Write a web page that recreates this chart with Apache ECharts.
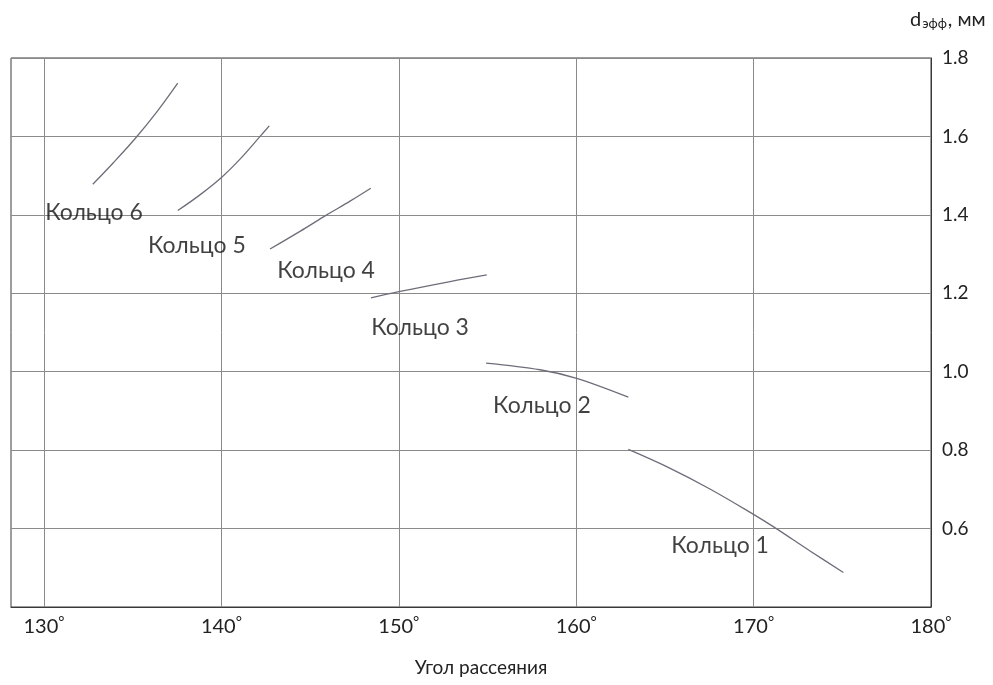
<!DOCTYPE html>
<html><head><meta charset="utf-8">
<script src="https://cdn.jsdelivr.net/npm/echarts@6/dist/echarts.min.js"></script>
<style>html,body{margin:0;padding:0;background:#fff}#c{width:993px;height:685px}</style>
</head><body><div id="c"></div>
<script>
// Tick labels
const xTicks = [130, 140, 150, 160, 170, 180];
const yTicks = [0.6, 0.8, 1.0, 1.2, 1.4, 1.6, 1.8];

// Curves: scattering angle (deg) vs effective diameter (mm)
const ring1Angle = [162.94, 165.10, 167.54, 170.04, 171.11, 173.18, 175.06];
const ring1D     = [0.802, 0.758, 0.701, 0.635, 0.605, 0.543, 0.488];
const ring2Angle = [154.92, 157.96, 160.03, 162.94];
const ring2D     = [1.022, 1.005, 0.983, 0.935];
const ring3Angle = [148.43, 150.00, 152.89, 154.96];
const ring3D     = [1.188, 1.204, 1.230, 1.247];
const ring4Angle = [142.74, 144.43, 145.94, 147.25, 148.42];
const ring4D     = [1.313, 1.358, 1.400, 1.435, 1.468];
const ring5Angle = [137.54, 138.79, 140.02, 141.05, 142.18, 142.70];
const ring5D     = [1.411, 1.451, 1.496, 1.542, 1.600, 1.627];
const ring6Angle = [132.75, 133.91, 135.13, 136.35, 137.54];
const ring6D     = [1.478, 1.533, 1.594, 1.662, 1.736];

// Annotation labels
const labelNames  = ['Кольцо 1', 'Кольцо 2', 'Кольцо 3', 'Кольцо 4', 'Кольцо 5', 'Кольцо 6'];
const labelAngles = [168.11, 158.07, 151.20, 145.90, 138.62, 132.82];
const labelDs     = [0.556, 0.913, 1.112, 1.257, 1.321, 1.405];

const FONT = 'Lato';
const rings = [[ring1Angle, ring1D], [ring2Angle, ring2D], [ring3Angle, ring3D],
               [ring4Angle, ring4D], [ring5Angle, ring5D], [ring6Angle, ring6D]];

const lineSeries = rings.map(function (r, i) {
  return {
    type: 'line', name: labelNames[i], smooth: 0.35, symbol: 'none',
    data: r[0].map(function (a, k) { return [a, r[1][k]]; }),
    lineStyle: { color: '#6e6e7a', width: 1.3 }, z: 3
  };
});

const labelSeries = {
  type: 'scatter', symbolSize: 0,
  data: labelNames.map(function (n, i) { return { name: n, value: [labelAngles[i], labelDs[i]] }; }),
  label: { show: true, position: 'inside', formatter: '{b}', fontFamily: FONT, fontSize: 23, color: '#111' },
  z: 4
};

const chart = echarts.init(document.getElementById('c'), null, { renderer: 'canvas' });
chart.setOption({
  animation: false,
  backgroundColor: '#fff',
  textStyle: { fontFamily: FONT },
  title: {
    left: 905, top: 5,
    text: '{d|d}{s|эфф}{d|, мм}',
    textStyle: {
      rich: {
        d: { fontFamily: FONT, fontSize: 20, fontWeight: 'normal', color: '#222', verticalAlign: 'bottom' },
        s: { fontFamily: FONT, fontSize: 13, fontWeight: 'normal', color: '#222', verticalAlign: 'bottom', padding: [0, 1, 0, 1] }
      }
    }
  },
  grid: { left: 11, right: 62, top: 58, bottom: 78, show: true, borderColor: '#3a3a3a', borderWidth: 1 },
  xAxis: {
    type: 'value', min: 128.14, max: 180,
    name: 'Угол рассеяния', nameLocation: 'middle', nameGap: 51,
    nameTextStyle: { fontFamily: FONT, fontSize: 19, color: '#222', padding: [0, 0, 0, 20] },
    axisLine: { show: true, lineStyle: { color: '#3a3a3a', width: 1 } },
    axisTick: { show: false, customValues: xTicks },
    splitLine: { show: true, lineStyle: { color: '#8a8a8a', width: 1 } },
    axisLabel: {
      customValues: xTicks, margin: 8,
      formatter: function (v) { return '{v|' + v + '}{g|°}'; },
      rich: {
        v: { fontFamily: FONT, fontSize: 20, color: '#222', lineHeight: 24 },
        g: { fontFamily: FONT, fontSize: 15, color: '#222', verticalAlign: 'top', lineHeight: 12 }
      }
    }
  },
  yAxis: {
    type: 'value', position: 'right', min: 0.4, max: 1.8, interval: 0.2,
    axisLine: { show: true, lineStyle: { color: '#3a3a3a', width: 1 } },
    axisTick: { show: false },
    splitLine: { show: true, lineStyle: { color: '#8a8a8a', width: 1 } },
    axisLabel: {
      showMinLabel: false, margin: 11, fontFamily: FONT, fontSize: 19, color: '#222',
      formatter: function (v) { return v.toFixed(1); }
    }
  },
  series: lineSeries.concat([labelSeries])
});
</script>
</body></html>
